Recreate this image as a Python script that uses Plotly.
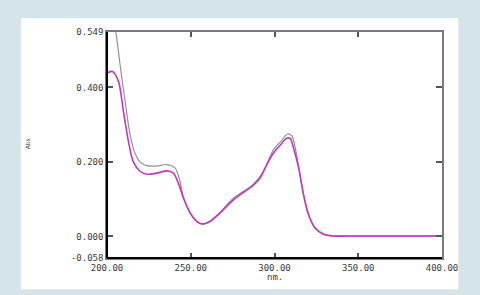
import plotly.graph_objects as go

# Wavelength (nm) and absorbance values
wl_magenta = [200, 203.2, 206.8, 209.8, 212.8, 215.7, 219.7, 223.7, 229.7, 235.6, 239.6,
              242.6, 245.6, 249.6, 253.6, 257, 261.5, 267.5, 273.5, 279.5, 285.4, 291.4,
              295.4, 299.4, 303.4, 307.4, 309.4, 311.4, 314.4, 317.3, 320.3, 324.3, 329.3,
              335.3, 345, 360, 380, 400]
abs_magenta = [0.439, 0.443, 0.417, 0.336, 0.255, 0.200, 0.175, 0.167, 0.170, 0.176, 0.170,
               0.143, 0.103, 0.063, 0.040, 0.033, 0.040, 0.063, 0.090, 0.112, 0.130, 0.157,
               0.193, 0.224, 0.245, 0.264, 0.263, 0.237, 0.184, 0.112, 0.058, 0.022, 0.006,
               0.001, 0.001, 0.001, 0.001, 0.001]

wl_gray = [200, 203, 205.2, 207.8, 210.8, 213.8, 216.7, 219.7, 223.7, 229.7, 235.6, 240.6,
           243.6, 245.6, 249.6, 253.6, 257, 261.5, 267.5, 275.5, 281.5, 287.4, 293.4,
           299.4, 303.4, 307.8, 310.4, 312.3, 314.4, 317.3, 320.3, 324.3, 329.3, 335.3,
           345, 360, 380, 400]
abs_gray = [0.62, 0.58, 0.549, 0.461, 0.363, 0.273, 0.224, 0.200, 0.190, 0.189, 0.193, 0.184,
            0.148, 0.106, 0.064, 0.041, 0.034, 0.041, 0.065, 0.103, 0.121, 0.140, 0.175,
            0.233, 0.253, 0.275, 0.270, 0.240, 0.188, 0.114, 0.059, 0.023, 0.006,
            0.001, 0.001, 0.001, 0.001, 0.001]

x_ticks = [200, 250, 300, 350, 400]
x_ticklabels = ["200.00", "250.00", "300.00", "350.00", "400.00"]
y_ticks = [-0.058, 0.0, 0.2, 0.4, 0.549]
y_ticklabels = ["-0.058", "0.000", "0.200", "0.400", "0.549"]

fig = go.Figure()
fig.add_trace(go.Scatter(x=wl_gray, y=abs_gray, mode="lines",
                         line=dict(color="#9a8f99", width=1.2, shape="spline", smoothing=0.8),
                         showlegend=False))
fig.add_trace(go.Scatter(x=wl_magenta, y=abs_magenta, mode="lines",
                         line=dict(color="#c038c0", width=1.6, shape="spline", smoothing=0.8),
                         showlegend=False))

font = dict(family="DejaVu Sans Mono", size=9, color="#3a3a3a")

fig.update_layout(
    width=480, height=295,
    margin=dict(l=107, r=38.3, t=31.7, b=37.3),
    paper_bgcolor="#d5e4e8",
    plot_bgcolor="white",
    xaxis=dict(range=[200, 400], tickvals=x_ticks, ticktext=x_ticklabels,
               ticks="inside", ticklen=5, tickcolor="#555555", tickwidth=1.5,
               showline=True, linecolor="#7a7a7a", linewidth=1.5, mirror="ticks",
               showgrid=False, zeroline=False, tickfont=font),
    yaxis=dict(range=[-0.058, 0.549], tickvals=y_ticks, ticktext=y_ticklabels,
               ticks="inside", ticklen=6, tickcolor="#555555", tickwidth=1.5,
               showline=True, linecolor="#7a7a7a", linewidth=1.5, mirror="ticks",
               showgrid=False, zeroline=False, tickfont=font),
    shapes=[
        dict(type="rect", xref="paper", yref="paper", x0=-0.257, x1=1.0487,
             y0=-0.1385, y1=1.0606, fillcolor="white", line=dict(width=0), layer="below"),
        dict(type="line", xref="paper", yref="paper", x0=0, x1=0, y0=0, y1=1,
             line=dict(color="black", width=2)),
        dict(type="line", xref="paper", yref="paper", x0=0, x1=1, y0=0, y1=0,
             line=dict(color="black", width=2)),
    ],
    annotations=[
        dict(text="nm.", xref="paper", yref="paper", x=0.5, y=-0.085,
             showarrow=False, font=font, xanchor="center", yanchor="middle"),
        dict(text="Abs", xref="paper", yref="paper", x=-0.239, y=0.507, textangle=-90,
             showarrow=False, font=dict(family="DejaVu Sans", size=6, color="#444444"),
             xanchor="center", yanchor="middle"),
    ],
)

fig.write_html("out.html")
